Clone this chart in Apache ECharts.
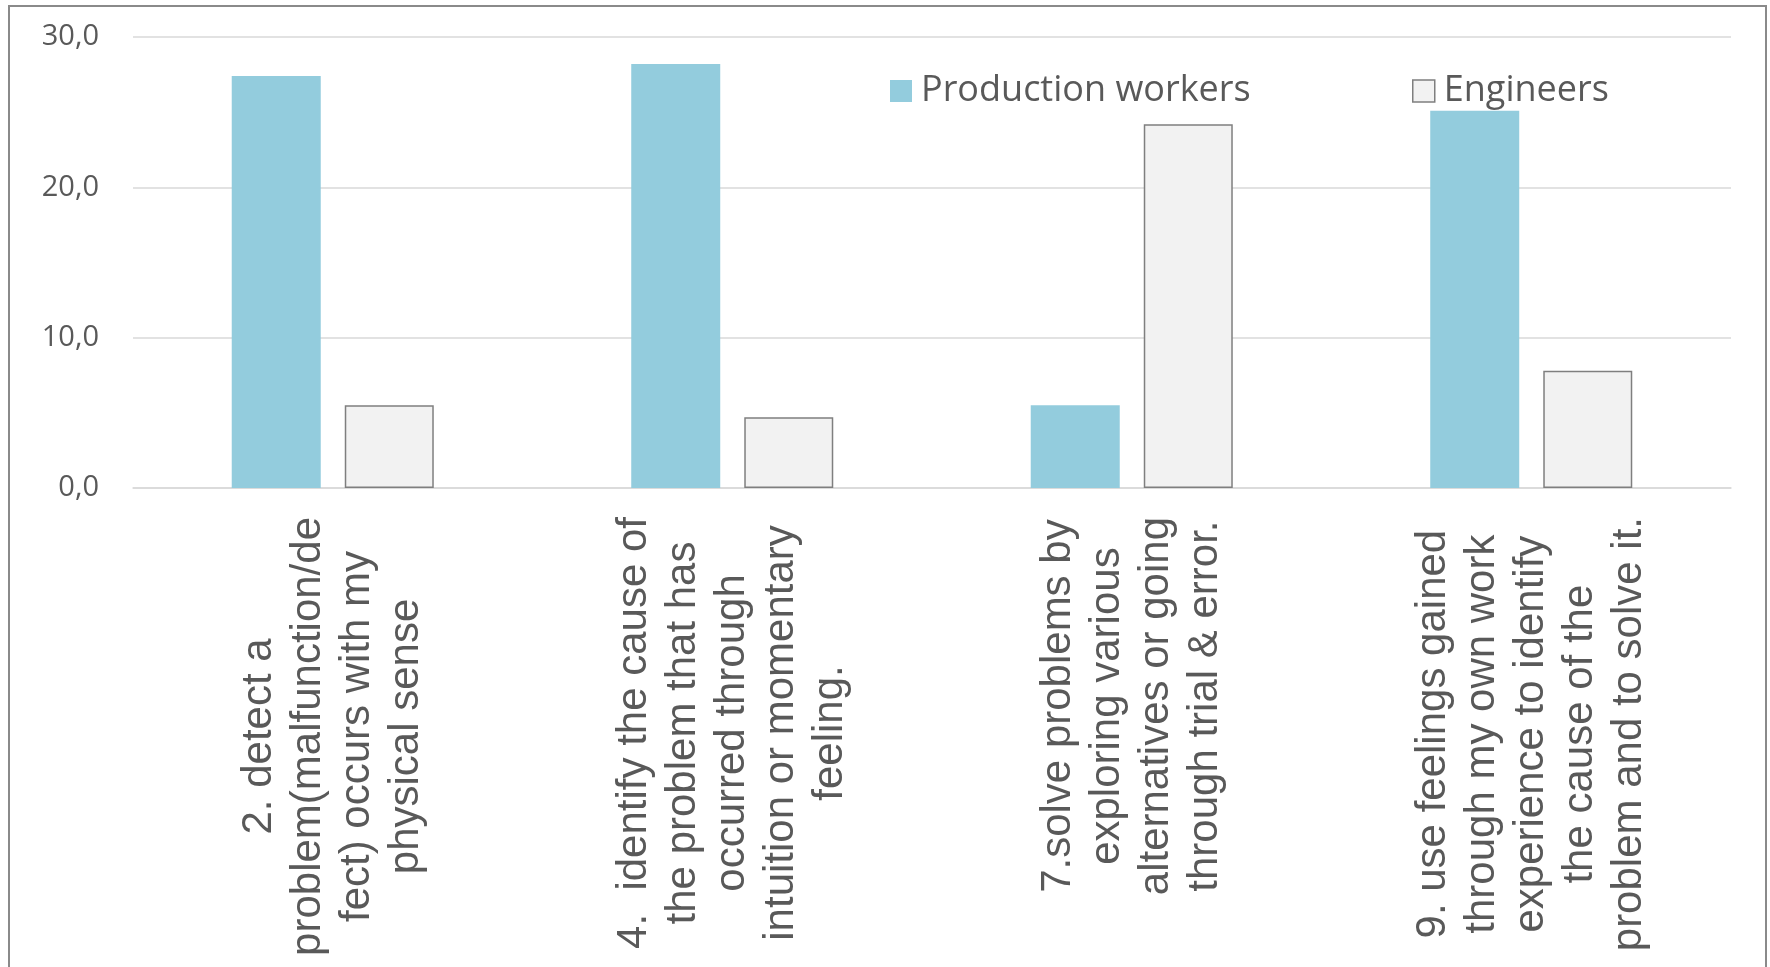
<!DOCTYPE html>
<html>
<head>
<meta charset="utf-8">
<script src="https://cdn.jsdelivr.net/npm/echarts@6/dist/echarts.min.js"></script>
<style>
html,body{margin:0;padding:0;background:#fff;}
#chart{width:1770px;height:967px;}
</style>
</head>
<body>
<div id="chart"></div>
<script>
const categories = [
  "2. detect a\nproblem(malfunction/de\nfect) occurs with my\nphysical sense",
  "4.  identify the cause of\nthe problem that has\noccurred through\nintuition or momentary\nfeeling.",
  "7.solve problems by\nexploring various\nalternatives or going\nthrough trial & error.",
  "9. use feelings gained\nthrough my own work\nexperience to identify\nthe cause of the\nproblem and to solve it."
];
const productionWorkers = [27.4, 28.2, 5.5, 25.1];
const engineers = [5.5, 4.7, 24.2, 7.8];
const yTicks = { min: 0, max: 30, interval: 10 };

const chart = echarts.init(document.getElementById('chart'));
const grey = '#595959';
chart.setOption({
  animation: false,
  backgroundColor: '#ffffff',
  graphic: [{
    type: 'rect',
    shape: { x: 9, y: 6, width: 1757, height: 1000 },
    style: { fill: 'none', stroke: '#8a8a8a', lineWidth: 2 },
    silent: true
  }],
  grid: { left: 133, right: 39, top: 37, bottom: 479, containLabel: false },
  legend: [{
    data: ['Production workers'],
    left: 885, top: 68,
    itemWidth: 22, itemHeight: 22,
    icon: 'rect',
    itemStyle: { color: '#93CCDD', borderWidth: 0 },
    textStyle: { fontFamily: 'Open Sans', fontSize: 36, color: grey, padding: [0, 0, 0, 4] }
  }, {
    data: ['Engineers'],
    left: 1407, top: 68,
    itemWidth: 22, itemHeight: 22,
    icon: 'rect',
    itemStyle: { color: '#F2F2F2', borderColor: '#7F7F7F', borderWidth: 1.5 },
    textStyle: { fontFamily: 'Open Sans', fontSize: 36, color: grey, padding: [0, 0, 0, 4] }
  }],
  xAxis: {
    type: 'category',
    data: categories,
    axisLine: { show: true, lineStyle: { color: '#D9D9D9', width: 1.5 } },
    axisTick: { show: false },
    axisLabel: {
      interval: 0,
      rotate: 90,
      margin: 29,
      formatter: function (v) {
        return v.split('\n').map(function (l) { return '{c|' + l + '}'; }).join('\n');
      },
      rich: {
        c: { align: 'center', fontFamily: 'Liberation Sans', fontSize: 42, lineHeight: 49, color: grey }
      }
    }
  },
  yAxis: {
    type: 'value',
    min: yTicks.min, max: yTicks.max, interval: yTicks.interval,
    axisLine: { show: false },
    axisTick: { show: false },
    splitLine: { lineStyle: { color: '#D9D9D9', width: 1.5 } },
    axisLabel: {
      margin: 34,
      fontFamily: 'Open Sans', fontSize: 29, color: grey,
      formatter: function (v) { return v.toFixed(1).replace('.', ','); }
    }
  },
  series: [{
    name: 'Production workers',
    type: 'bar',
    data: productionWorkers,
    barWidth: 89,
    barGap: '27%',
    itemStyle: { color: '#93CCDD' }
  }, {
    name: 'Engineers',
    type: 'bar',
    data: engineers,
    barWidth: 89,
    barGap: '27%',
    itemStyle: { color: '#F2F2F2', borderColor: '#7F7F7F', borderWidth: 1.5 }
  }]
});
</script>
</body>
</html>
